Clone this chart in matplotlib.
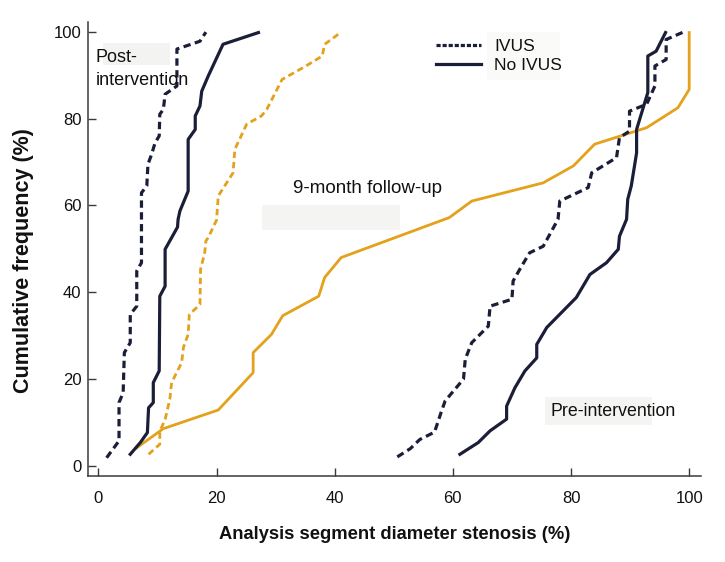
import matplotlib
matplotlib.use("Agg")
import matplotlib.pyplot as plt
from matplotlib.patches import Rectangle
from matplotlib.lines import Line2D

REG = "Liberation Sans"

NAVY = "#1b1e38"
ORANGE = "#e3a11c"

# ---------------- data ----------------
post_ivus_x = [1.4, 3.5, 3.5, 4.2, 4.4, 5.4, 5.4, 6.5, 6.5, 7.3, 7.3, 8.2, 8.4, 9.0, 9.6, 10.3, 10.4, 11.0, 11.3, 13.3, 13.3, 17.2, 18.2]
post_ivus_y = [1.9, 5.8, 14.6, 16.9, 26.1, 28.4, 34.9, 36.8, 44.9, 46.8, 62.9, 64.5, 69.5, 71.7, 74.4, 76.0, 81.0, 82.1, 85.6, 87.5, 96.0, 97.8, 99.9]

post_noivus_x = [5.4, 7.1, 8.3, 8.5, 9.3, 9.3, 10.3, 10.4, 11.3, 11.3, 13.4, 13.5, 13.8, 15.2, 15.2, 16.4, 16.4, 17.2, 17.5, 18.6, 21.1, 27.1]
post_noivus_y = [2.7, 5.4, 7.7, 13.4, 14.6, 19.2, 21.9, 39.1, 41.4, 49.9, 55.0, 56.8, 58.7, 63.3, 75.2, 77.5, 80.6, 82.9, 86.3, 89.8, 97.1, 99.8]

fu_ivus_x = [8.5, 10.4, 10.4, 11.3, 12.1, 12.4, 14.1, 14.4, 15.2, 15.4, 17.2, 17.3, 18.0, 18.2, 18.6, 20.0, 20.3, 22.8, 23.1, 25.1, 27.6, 28.5, 31.1, 35.0, 37.9, 38.3, 41.1]
fu_ivus_y = [2.7, 5.0, 8.0, 10.7, 15.4, 19.2, 23.8, 27.3, 30.3, 34.9, 37.2, 45.3, 49.1, 51.8, 52.6, 56.6, 62.2, 67.5, 72.9, 78.7, 80.6, 82.1, 89.0, 92.0, 94.4, 97.1, 99.9]

fu_noivus_x = [6.5, 11.0, 20.3, 26.2, 26.2, 29.3, 31.2, 37.3, 38.3, 41.1, 59.4, 63.2, 75.3, 80.4, 84.0, 92.8, 98.1, 100.0, 100.0]
fu_noivus_y = [4.2, 8.6, 12.9, 21.5, 26.1, 30.3, 34.6, 39.1, 43.4, 48.0, 57.2, 61.0, 65.2, 69.1, 74.1, 77.9, 82.5, 86.7, 99.8]

pre_ivus_x = [50.6, 52.8, 54.4, 56.9, 58.0, 58.7, 61.8, 62.1, 63.2, 66.0, 66.3, 70.0, 70.2, 71.5, 73.0, 75.3, 77.8, 78.1, 82.9, 83.5, 87.7, 88.2, 89.9, 89.9, 92.8, 94.2, 94.2, 96.1, 96.1, 99.0]
pre_ivus_y = [2.1, 4.0, 6.1, 7.8, 12.3, 15.0, 20.0, 24.6, 28.4, 32.2, 36.8, 38.4, 42.6, 45.7, 49.1, 50.6, 56.8, 61.0, 64.1, 67.5, 71.0, 75.6, 77.1, 81.7, 83.3, 87.5, 92.1, 93.6, 98.2, 99.9]

pre_noivus_x = [61.2, 64.3, 66.3, 69.1, 69.1, 70.5, 72.2, 74.2, 74.2, 75.9, 80.9, 83.2, 86.0, 88.0, 88.2, 89.4, 89.6, 90.2, 91.1, 91.1, 93.0, 93.0, 94.4, 96.0]
pre_noivus_y = [2.7, 5.4, 8.1, 10.8, 13.8, 18.0, 21.9, 24.9, 28.0, 31.9, 38.8, 44.1, 46.8, 49.9, 52.9, 56.8, 61.4, 64.5, 72.1, 77.5, 86.0, 94.4, 95.5, 99.8]

x_ticks = [0, 20, 40, 60, 80, 100]
y_ticks = [0, 20, 40, 60, 80, 100]
legend_labels = ["IVUS", "No IVUS"]

# ---------------- figure ----------------
W, H = 725, 562
fig = plt.figure(figsize=(7.25, 5.62), dpi=100)
ax = fig.add_axes([88.3 / W, 1 - 476 / H, (701 - 88.3) / W, (476 - 21.7) / H])
ax.set_facecolor("none")

def px_rect(x0, y0, x1, y1, color):
    ax.add_patch(Rectangle((x0 / W, 1 - y1 / H), (x1 - x0) / W, (y1 - y0) / H,
                           transform=fig.transFigure, facecolor=color,
                           edgecolor="none", zorder=0, clip_on=False))

px_rect(103, 43, 170, 65, "#f3f3f1")
px_rect(262, 205, 400, 230, "#f4f4f2")
px_rect(545, 397, 652, 425, "#f4f4f2")
px_rect(487, 32, 560, 80, "#fafaf9")

dash = (2.3, 1.4)
lw_n = 2.3
lw_o = 2.0

ax.plot(fu_noivus_x, fu_noivus_y, color=ORANGE, lw=lw_o, zorder=2)
ax.plot(fu_ivus_x, fu_ivus_y, color=ORANGE, lw=lw_o, dashes=dash, zorder=2)
ax.plot(post_ivus_x, post_ivus_y, color=NAVY, lw=lw_n, dashes=dash, zorder=3)
ax.plot(post_noivus_x, post_noivus_y, color=NAVY, lw=lw_n, zorder=3)
ax.plot(pre_ivus_x, pre_ivus_y, color=NAVY, lw=lw_n, dashes=dash, zorder=3)
ax.plot(pre_noivus_x, pre_noivus_y, color=NAVY, lw=lw_n, zorder=3)

ax.set_xlim(-1.7, 102.0)
ax.set_ylim(-2.3, 102.3)
for s in ["top", "right"]:
    ax.spines[s].set_visible(False)
for s in ["left", "bottom"]:
    ax.spines[s].set_color("#3a3a3a")
    ax.spines[s].set_linewidth(1.1)

ax.set_xticks(x_ticks)
ax.set_yticks(y_ticks)
ax.set_xticklabels([str(v) for v in x_ticks], family=REG, fontsize=12)
ax.set_yticklabels([str(v) for v in y_ticks], family=REG, fontsize=12)
ax.tick_params(axis="x", direction="in", length=6, width=1, color="#3a3a3a", pad=11, labelcolor="#111111")
ax.tick_params(axis="y", direction="in", length=6, width=1, color="#3a3a3a", pad=5, labelcolor="#111111")

ax.set_xlabel("Analysis segment diameter stenosis (%)", family=REG, fontweight="bold",
              fontsize=13.2, labelpad=14, color="#111111")
ax.set_ylabel("Cumulative frequency (%)", family=REG, fontweight="bold",
              fontsize=15.5, color="#111111")
ax.yaxis.set_label_coords(-0.088, 0.475)

ax.text(-0.4, 93.1, "Post-", family=REG, fontsize=13, ha="left", va="baseline",
        color="#111111", zorder=4)
ax.text(-0.4, 87.7, "intervention", family=REG, fontsize=13, ha="left", va="baseline",
        color="#111111", zorder=4)
ax.text(45.6, 62.8, "9-month follow-up", family=REG, fontsize=13.5, ha="center", va="baseline",
        color="#111111", zorder=4)
ax.text(76.5, 11.4, "Pre-intervention", family=REG, fontsize=12.8, ha="left", va="baseline",
        color="#111111", zorder=4)

handles = [Line2D([], [], color=NAVY, lw=lw_n, dashes=(1.3, 0.6)),
           Line2D([], [], color=NAVY, lw=lw_n)]
leg = ax.legend(handles, legend_labels, loc="upper left", bbox_to_anchor=(0.5675, 0.963),
                frameon=False, prop={"family": REG, "size": 12.5}, handlelength=2.6,
                handletextpad=0.75, labelspacing=0.22, borderpad=0, borderaxespad=0)
for t in leg.get_texts():
    t.set_color("#111111")

fig.savefig("out.png", dpi=100, facecolor="white")
